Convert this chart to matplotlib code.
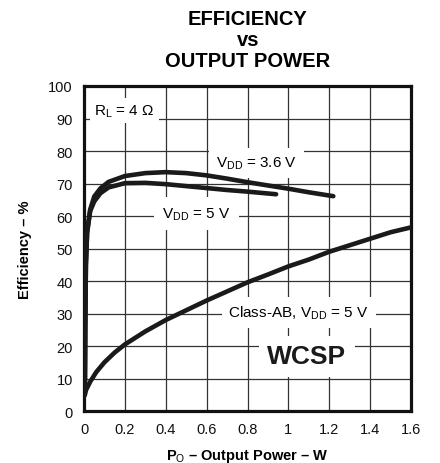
import matplotlib
matplotlib.use("Agg")
import matplotlib.pyplot as plt

plt.rcParams['font.family'] = ['Liberation Sans', 'DejaVu Sans']
plt.rcParams['mathtext.fontset'] = 'custom'
plt.rcParams['mathtext.rm'] = 'Liberation Sans'
plt.rcParams['mathtext.it'] = 'Liberation Sans:italic'
plt.rcParams['mathtext.bf'] = 'Liberation Sans:bold'

# Efficiency (%) vs output power (W), RL = 4 ohm
po_36 = [0.004, 0.006, 0.009, 0.015, 0.03, 0.05, 0.08, 0.12, 0.2, 0.3, 0.4,
         0.5, 0.6, 0.7, 0.8, 0.9, 1.0, 1.1, 1.22]
eff_36 = [5, 25, 45, 55, 62, 66, 68.5, 70.5, 72.3, 73.2, 73.5,
          73.2, 72.5, 71.5, 70.4, 69.4, 68.4, 67.3, 66.1]

po_5 = [0.004, 0.006, 0.009, 0.015, 0.03, 0.05, 0.08, 0.12, 0.2, 0.3, 0.4,
        0.5, 0.6, 0.7, 0.8, 0.94]
eff_5 = [5, 25, 45, 55, 61.5, 64.5, 67, 68.8, 70.1, 70.2, 69.8,
         69.2, 68.6, 68.0, 67.5, 66.7]

po_ab = [0.0, 0.01, 0.03, 0.06, 0.1, 0.15, 0.2, 0.3, 0.4, 0.5, 0.6, 0.7,
         0.8, 0.9, 1.0, 1.1, 1.2, 1.3, 1.4, 1.5, 1.6]
eff_ab = [4.5, 6.5, 9, 12, 15, 18, 20.5, 24.5, 28, 31, 34, 36.8,
          39.6, 42, 44.5, 46.6, 49, 51, 53, 55, 56.5]

x_ticks = [0, 0.2, 0.4, 0.6, 0.8, 1.0, 1.2, 1.4, 1.6]
x_tick_labels = ['0', '0.2', '0.4', '0.6', '0.8', '1', '1.2', '1.4', '1.6']
y_ticks = [0, 10, 20, 30, 40, 50, 60, 70, 80, 90, 100]

fig = plt.figure(figsize=(4.4, 4.64), dpi=100)
ax = fig.add_axes([0.191, 0.112, 0.743, 0.7005])

ax.set_xlim(0, 1.6)
ax.set_ylim(0, 100)
ax.set_xticks(x_ticks)
ax.set_xticklabels(x_tick_labels)
ax.set_yticks(y_ticks)
ax.tick_params(length=0, labelsize=10.5, colors='#111111')
ax.tick_params(axis='x', pad=8)
ax.tick_params(axis='y', pad=8)
ax.set_axisbelow(True)
ax.grid(True, color='#333333', linewidth=0.9)
for s in ax.spines.values():
    s.set_linewidth(2.3)
    s.set_color('#111111')

lw = 3.3
ax.plot(po_36, eff_36, color='#1a1a1a', lw=lw, solid_capstyle='round', zorder=4)
ax.plot(po_5, eff_5, color='#1a1a1a', lw=lw, solid_capstyle='round', zorder=4)
ax.plot(po_ab, eff_ab, color='#1a1a1a', lw=lw, solid_capstyle='round', zorder=4)

box = dict(facecolor='white', edgecolor='none', pad=3)
ax.text(0.05, 92.5, r'R$_{\rm L}$ = 4 $\Omega$', fontsize=11, ha='left', va='center',
        bbox=box, zorder=3)
ax.text(0.845, 76.3, r'V$_{\rm DD}$ = 3.6 V', fontsize=11, ha='center', va='center',
        bbox=dict(facecolor='white', edgecolor='none', pad=5), zorder=3)
ax.text(0.55, 60.8, r'V$_{\rm DD}$ = 5 V', fontsize=11, ha='center', va='center',
        bbox=dict(facecolor='white', edgecolor='none', pad=6), zorder=3)
ax.text(1.05, 30.3, r'Class-AB, V$_{\rm DD}$ = 5 V', fontsize=11, ha='center', va='center',
        bbox=dict(facecolor='white', edgecolor='none', pad=5), zorder=3)
ax.text(1.09, 16.8, 'WCSP', fontsize=19, fontweight='bold', ha='center', va='center',
        color='#1a1a1a', bbox=dict(facecolor='white', edgecolor='none', pad=6), zorder=3)

ax.set_xlabel(r'P$_{\rm O}$ – Output Power – W', fontsize=10.5, fontweight='bold',
              labelpad=8)
ax.set_ylabel('Efficiency – %', fontsize=10.5, fontweight='bold', labelpad=12)

fig.text(0.5636, 1 - 25 / 464, 'EFFICIENCY', fontsize=14.5, fontweight='bold',
         ha='center', va='baseline')
fig.text(0.5636, 1 - 45.5 / 464, 'vs', fontsize=14.5, fontweight='bold',
         ha='center', va='baseline')
fig.text(0.5636, 1 - 67 / 464, 'OUTPUT POWER', fontsize=14.5, fontweight='bold',
         ha='center', va='baseline')

fig.savefig('out.png', dpi=100)
